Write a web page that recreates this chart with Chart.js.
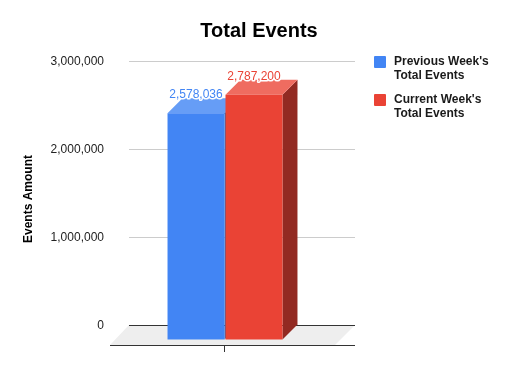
<!DOCTYPE html>
<html>
<head>
<meta charset="utf-8">
<style>
  html, body { margin: 0; padding: 0; background: #fff; }
  #wrap { width: 517px; height: 371px; }
</style>
<script src="https://cdn.jsdelivr.net/npm/chart.js@4"></script>
</head>
<body>
<div id="wrap"><canvas id="chart" width="517" height="371"></canvas></div>
<script>
const categories = [''];
const previousWeek = [2578036];
const currentWeek = [2787200];
const seriesNames = [["Previous Week's", 'Total Events'], ["Current Week's", 'Total Events']];
const yTicks = [0, 1000000, 2000000, 3000000];

// pseudo 3d look, the back plane is what the scales give us
const depth = 15;
const nudge = 2;
const faces = [
  { front: '#4285f4', top: '#669df6', side: '#2e5dab' },
  { front: '#ea4335', top: '#ef6c60', side: '#922a22' },
];
const fontName = '"Liberation Sans", Arial, sans-serif';

function poly(ctx, pts, color) {
  ctx.fillStyle = color;
  ctx.beginPath();
  pts.forEach((p, i) => (i ? ctx.lineTo(p[0], p[1]) : ctx.moveTo(p[0], p[1])));
  ctx.closePath();
  ctx.fill();
}

const fake3d = {
  id: 'fake3d',
  beforeDatasetsDraw(chart) {
    const { ctx, chartArea: a } = chart;
    const base = chart.scales.y.getPixelForValue(0);
    // floor
    poly(ctx, [[a.left - 19, base + 20], [a.left, base], [a.right, base], [a.right - 20, base + 20]], '#eeeeee');
    ctx.fillStyle = '#333333';
    ctx.fillRect(a.left, base, a.right - a.left, 1);
    ctx.fillRect(a.left - 19, base + 20, a.right - a.left + 19, 1);
    ctx.fillRect(chart.scales.x.getPixelForValue(0) - 18, base + 20, 1, 7);
  },
  // chart.js paints the last dataset first, the red bar has to land on top
  beforeDatasetDraw() {
    return false;
  },
  afterDatasetsDraw(chart) {
    const { ctx } = chart;
    ctx.save();
    chart.data.datasets.forEach((ds, i) => {
      const bar = chart.getDatasetMeta(i).data[0];
      const c = faces[i];
      const l = bar.x - bar.width / 2 - nudge, r = bar.x + bar.width / 2 - nudge;
      const t = bar.y, b = bar.base;
      poly(ctx, [[r, t], [r, b], [r - depth, b + depth], [r - depth, t + depth]], c.side);
      poly(ctx, [[l, t], [r, t], [r - depth, t + depth], [l - depth, t + depth]], c.top);
      ctx.save();
      ctx.translate(-depth - nudge, depth);
      bar.draw(ctx);
      ctx.restore();
    });

    ctx.font = '12px ' + fontName;
    ctx.textAlign = 'center';
    ctx.textBaseline = 'bottom';
    ctx.lineJoin = 'round';
    chart.data.datasets.forEach((ds, i) => {
      const bar = chart.getDatasetMeta(i).data[0];
      const txt = ds.data[0].toLocaleString('en-US');
      const x = bar.x - depth - nudge;
      ctx.lineWidth = 3;
      ctx.strokeStyle = '#fff';
      ctx.strokeText(txt, x, bar.y + 3);
      ctx.fillStyle = faces[i].front;
      ctx.fillText(txt, x, bar.y + 3);
    });

    // title and axis title sit off the plot centre, so they are placed by hand
    ctx.textBaseline = 'middle';
    ctx.fillStyle = '#000';
    ctx.font = 'bold 20px ' + fontName;
    ctx.fillText('Total Events', 259, 31);
    ctx.save();
    ctx.translate(29, 199);
    ctx.rotate(-Math.PI / 2);
    ctx.font = 'bold 12px ' + fontName;
    ctx.fillText('Events Amount', 0, 0);
    ctx.restore();

    // legend
    ctx.textAlign = 'left';
    ctx.font = 'bold 12px ' + fontName;
    seriesNames.forEach((lines, i) => {
      const top = 56 + i * 38;
      ctx.fillStyle = faces[i].front;
      ctx.beginPath();
      ctx.roundRect(374, top, 12, 12, 1);
      ctx.fill();
      ctx.fillStyle = '#1a1a1a';
      lines.forEach((s, j) => ctx.fillText(s, 394, top + 6 + j * 14));
    });
    ctx.restore();
  },
};

new Chart(document.getElementById('chart'), {
  type: 'bar',
  data: {
    labels: categories,
    datasets: [
      { label: seriesNames[0].join(' '), data: previousWeek, backgroundColor: faces[0].front },
      { label: seriesNames[1].join(' '), data: currentWeek, backgroundColor: faces[1].front },
    ],
  },
  options: {
    responsive: false,
    animation: false,
    categoryPercentage: 0.513,
    barPercentage: 0.983,
    layout: { padding: { left: 0, right: 162, top: 61, bottom: 0 } },
    plugins: {
      legend: { display: false },
      tooltip: { enabled: false },
      title: { display: false },
    },
    scales: {
      x: {
        grid: { display: false },
        border: { display: false },
        ticks: { display: false },
        afterFit(s) { s.height = 46; },
      },
      y: {
        min: 0,
        max: 3000000,
        afterBuildTicks(s) { s.ticks = yTicks.map(v => ({ value: v })); },
        afterFit(s) { s.width = 129; },
        grid: { color: '#cccccc', drawTicks: false },
        border: { display: false },
        ticks: {
          padding: 25,
          labelOffset: 1,
          color: '#222222',
          font: { family: fontName, size: 12 },
          callback: v => v.toLocaleString('en-US'),
        },
      },
    },
  },
  plugins: [fake3d],
});
</script>
</body>
</html>
